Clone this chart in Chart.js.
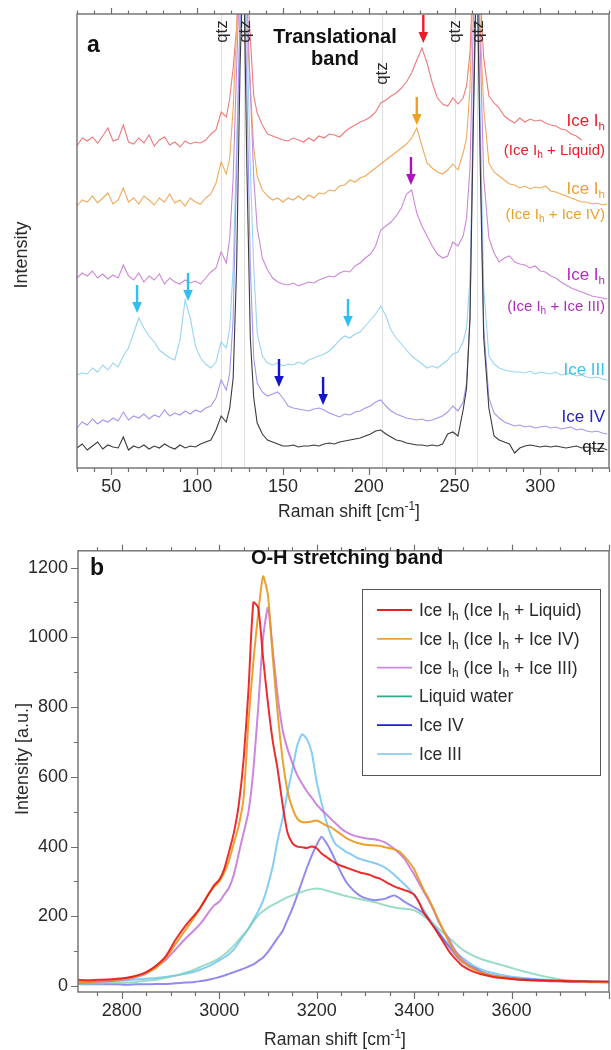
<!DOCTYPE html>
<html>
<head>
<meta charset="utf-8">
<script src="https://cdn.jsdelivr.net/npm/chart.js@4.4.1/dist/chart.umd.min.js"></script>
<style>
  html, body { margin: 0; padding: 0; background: #fff; }
  canvas { display: block; }
</style>
</head>
<body>
<canvas id="chartA" width="611" height="530"></canvas>
<canvas id="chartB" width="611" height="520"></canvas>
<script>
// ---------- panel a: translational band (stacked spectra, arbitrary units) ----------
const shiftA = [30,33,36,39,42,45,48,51,54,57,60,63,66,69,72,75,78,81,84,87,90,93,96,99,102,105,108,111,
  114,117,119,121,123,125,127,129,131,133,135,138,
  141,144,147,150,153,156,159,162,165,168,171,174,177,180,183,186,189,192,195,198,201,204,207,210,213,216,219,222,225,228,231,234,237,240,243,246,
  249,252,255,257,259,261,263,265,267,270,
  273,276,279,282,285,288,291,294,297,300,303,306,309,312,315,318,321,324,327,330,333,336,339];
const shiftTicksA = [50, 100, 150, 200, 250, 300];

const ihLiquidA = [322,330,327,331,325,332,340,327,329,343,326,324,330,325,333,322,328,331,323,326,321,327,324,326,325,328,334,338,
  356,351,370,400,440,500,520,490,430,372,355,343,
  334,332,330,328,327,330,328,326,330,327,332,330,334,333,331,336,340,343,346,348,351,356,365,368,372,375,380,386,395,408,420,405,385,370,364,362,
  370,364,370,382,415,500,520,470,410,372,
  365,360,352,348,345,350,346,349,347,348,345,343,342,339,338,334,332,328,null,null,null,null,null];
const ihIceIVA = [262,268,266,272,265,270,275,264,268,280,266,270,264,272,268,263,270,266,274,265,268,262,270,266,264,270,274,285,
  306,294,310,360,440,520,500,440,380,320,292,278,
  272,268,270,266,270,268,272,268,273,270,275,274,278,277,282,283,288,286,290,292,296,300,304,308,312,316,320,324,330,340,322,305,300,296,294,298,
  304,298,315,330,380,500,520,440,360,305,
  296,292,288,284,283,280,282,279,281,280,282,277,276,274,272,270,268,266,266,264,265,263,264];
const ihIceIIIA = [190,195,192,197,190,194,189,193,190,203,192,188,195,186,192,188,194,184,190,186,184,188,185,187,184,190,196,200,
  216,205,230,290,400,500,520,470,380,290,240,210,
  198,190,186,184,183,185,182,184,186,185,188,190,192,191,195,197,196,202,205,210,214,222,238,242,246,252,260,274,278,255,242,232,222,214,210,212,
  226,222,232,250,300,450,520,420,290,230,
  215,206,210,212,206,204,203,200,202,197,196,192,190,186,183,180,178,176,174,172,171,170,169];
const iceIIIA = [93,95,94,100,96,103,98,105,101,112,120,135,150,140,132,126,118,114,110,108,128,168,150,122,110,104,100,106,
  126,120,140,200,320,450,520,440,300,200,135,112,
  105,103,105,102,104,103,106,104,108,110,112,114,117,122,128,132,130,134,136,142,148,154,162,152,138,130,124,118,112,108,104,100,102,100,104,108,
  114,116,126,140,190,350,520,350,180,112,
  104,100,98,97,96,96,95,97,94,96,95,94,96,93,94,95,92,93,91,90,91,89,88];
const iceIVA = [40,46,43,49,44,48,46,50,47,56,48,52,50,54,49,53,51,58,52,55,53,57,54,58,56,60,62,70,
  88,78,95,150,300,450,520,380,200,110,85,76,
  72,74,76,70,62,60,59,58,57,59,60,58,55,53,51,54,53,56,57,60,62,66,68,62,57,54,52,50,49,48,49,47,48,50,52,56,
  62,57,66,85,150,380,520,320,140,70,
  55,50,46,44,42,43,41,42,40,41,42,40,41,39,40,41,38,39,37,36,37,35,34];
const quartzA = [20,24,18,22,26,19,23,21,20,31,18,22,20,23,19,22,20,24,21,19,23,20,22,21,24,26,28,38,
  52,46,60,90,200,400,520,300,130,70,45,34,
  28,26,24,22,22,23,21,22,22,23,22,24,25,24,26,27,28,29,30,32,34,37,38,34,31,28,27,25,24,23,23,22,23,22,24,34,
  36,32,58,80,150,350,520,300,130,60,
  32,28,26,24,15,20,22,23,22,21,22,21,22,21,20,21,22,20,21,20,19,20,18];

const qtzBandsA = [114, 127.5, 208, 250, 263];
const arrowShiftA = [231.8, 228, 224.6, 65, 94.7, 187.9, 147.7, 173.4];
const arrowTipA = [425, 343, 283, 155, 167, 141, 81, 63];
const traceNamesA = [['Ice I_{h}', '(Ice I_{h} + Liquid)'], ['Ice I_{h}', '(Ice I_{h} + Ice IV)'],
  ['Ice I_{h}', '(Ice I_{h} + Ice III)'], ['Ice III'], ['Ice IV'], ['qtz']];

// ---------- panel b: O-H stretching band ----------
const shiftB = [2710,2730,2750,2770,2790,2810,2830,2850,2870,2890,2910,2930,2950,
  2960,2970,2980,2990,3000,3010,3020,3030,3040,3050,3060,3070,3080,3090,3100,3110,3120,3130,3140,3150,3160,3170,3180,3190,3200,
  3210,3220,3230,3240,3250,3260,3270,3280,3290,3300,3310,3320,3330,3340,3350,3360,3370,3380,3390,3400,3410,3420,3430,3440,3450,
  3460,3470,3480,3490,3500,
  3520,3540,3560,3580,3600,3620,3640,3660,3680,3700,3720,3740,3760,3780,3800];
const shiftTicksB = [2800, 3000, 3200, 3400, 3600];
const intensityTicksB = [0, 200, 400, 600, 800, 1000, 1200];

const ihLiquidB = [18,17,18,19,21,24,30,40,58,85,132,172,205,
  222,245,268,290,305,335,385,440,520,650,850,1100,1085,940,810,700,620,520,440,410,400,398,396,400,395,
  380,370,360,352,345,340,335,330,325,322,318,312,308,300,292,285,280,275,270,262,240,210,190,170,148,
  126,103,85,70,57,
  42,33,27,23,20,18,17,16,15,15,14,14,13,13,13];
const ihIceIVB = [12,12,13,15,18,22,28,38,52,80,120,160,200,
  222,245,268,285,300,325,360,410,460,540,760,930,1070,1175,1120,940,780,650,560,510,480,470,470,472,475,
  468,460,455,445,435,425,418,412,408,405,404,403,402,398,395,392,385,372,355,335,305,275,250,220,190,
  160,130,105,85,70,
  50,38,30,25,22,19,17,15,14,14,13,13,12,12,12];
const ihIceIIIB = [10,10,12,13,16,20,26,36,55,75,105,135,162,
  177,195,215,232,242,262,282,320,380,440,500,620,800,1000,1085,960,830,735,680,640,605,580,558,540,520,
  505,492,478,465,452,442,435,430,427,424,422,420,417,412,403,393,380,365,343,320,295,270,245,218,185,
  160,138,112,90,74,
  52,38,30,25,21,18,16,15,14,13,12,12,11,11,10];
const liquidB = [5,6,7,8,9,10,12,15,18,24,30,38,48,
  54,60,66,72,80,90,102,116,132,148,165,185,203,215,225,233,240,248,255,260,266,270,275,278,280,
  278,274,270,266,262,258,255,252,249,246,243,240,236,232,228,225,223,222,220,217,210,200,190,178,165,
  152,140,128,115,104,
  88,76,68,60,52,44,37,30,24,19,16,14,13,12,12];
const iceIVB = [6,5,5,5,5,4,5,5,6,6,8,10,12,
  14,16,19,22,26,30,35,40,45,50,56,62,72,82,98,118,138,158,190,222,260,300,340,375,405,
  428,410,385,355,325,300,282,268,258,252,248,246,248,250,256,260,252,242,234,226,218,208,192,172,155,
  135,115,98,80,68,
  54,40,31,26,23,20,19,17,16,15,14,14,13,12,12];
const iceIIIB = [12,12,13,14,15,17,19,21,23,26,30,35,42,
  46,52,58,66,74,82,92,105,125,145,165,190,215,245,290,345,420,480,555,620,690,722,708,668,585,
  525,470,430,405,395,385,378,370,364,360,356,352,347,340,330,318,305,292,278,262,240,218,195,175,155,
  135,120,105,92,80,
  60,46,38,32,27,24,21,19,17,16,15,14,13,13,12];
const seriesNamesB = ['Ice I_{h} (Ice I_{h} + Liquid)', 'Ice I_{h} (Ice I_{h} + Ice IV)', 'Ice I_{h} (Ice I_{h} + Ice III)',
  'Liquid water', 'Ice IV', 'Ice III'];

// ---------- styles ----------
const FONT = '"Liberation Sans", Arial, Helvetica, sans-serif';
const AXIS = '#6e6e6e';
const INK = '#2a2a2a';
Chart.defaults.font.family = FONT;

const traceColorA = ['rgb(238,122,122)', 'rgb(238,170,92)', 'rgb(205,135,215)', 'rgb(152,212,242)', 'rgb(162,152,240)', 'rgb(58,58,58)'];
const labelColorA = ['#e8202a', '#eba030', '#b02cc0', '#38c4ec', '#2424c8', '#222'];
const labelYA = [[342, 313], [274, 249], [188, 157], [93], [46], [16]];
const arrowColorA = ['#ee1c24', '#f0a020', '#b010c0', '#30c0f0', '#30c0f0', '#30c0f0', '#1414d0', '#1414d0'];
const traceColorB = ['rgba(232,22,22,0.9)', 'rgba(234,150,22,0.9)', 'rgba(196,112,216,0.85)',
  'rgba(120,208,178,0.75)', 'rgba(72,60,232,0.6)', 'rgba(112,196,245,0.85)'];
const legendColorB = ['#e82020', '#eba335', '#d086e0', '#2aaa90', '#2020d0', '#98d4f2'];

// ---------- helpers ----------
function richParts(str) {
  const out = []; const re = /([_^])\{([^}]*)\}/g; let last = 0, m;
  while ((m = re.exec(str))) {
    if (m.index > last) out.push({ t: str.slice(last, m.index), k: '' });
    out.push({ t: m[2], k: m[1] });
    last = re.lastIndex;
  }
  if (last < str.length) out.push({ t: str.slice(last), k: '' });
  return out;
}
function drawRich(ctx, str, x, y, size, color, align, weight) {
  const parts = richParts(str);
  const fontOf = k => (weight || 'normal') + ' ' + (k ? size * 0.68 : size) + 'px ' + FONT;
  let w = 0;
  parts.forEach(p => { ctx.font = fontOf(p.k); p.w = ctx.measureText(p.t).width; w += p.w; });
  let cx = align === 'right' ? x - w : align === 'center' ? x - w / 2 : x;
  ctx.fillStyle = color; ctx.textAlign = 'left'; ctx.textBaseline = 'alphabetic';
  parts.forEach(p => {
    ctx.font = fontOf(p.k);
    const dy = p.k === '_' ? size * 0.22 : p.k === '^' ? -size * 0.42 : 0;
    ctx.fillText(p.t, cx, y + dy);
    cx += p.w;
  });
}
function drawRotated(ctx, str, x, y, size, color) {
  ctx.save(); ctx.translate(x, y); ctx.rotate(-Math.PI / 2);
  drawRich(ctx, str, 0, size * 0.36, size, color, 'center');
  ctx.restore();
}
function plainName(s) { return s.replace(/[_^]\{([^}]*)\}/g, '$1'); }

// frame + minor/major tick marks
const framePlugin = {
  id: 'frame',
  afterDatasetsDraw(chart, args, o) {
    const { ctx, chartArea: a } = chart;
    const sx = chart.scales.x, sy = chart.scales.y;
    ctx.save();
    ctx.strokeStyle = AXIS; ctx.lineWidth = 1.4;
    ctx.strokeRect(a.left, a.top, a.right - a.left, a.bottom - a.top);
    ctx.lineWidth = 1.2;
    ctx.beginPath();
    for (let v = Math.ceil(sx.min / o.xMinor) * o.xMinor; v <= sx.max; v += o.xMinor) {
      const p = Math.round(sx.getPixelForValue(v)) + 0.5;
      const major = v % o.xMajor === 0;
      ctx.moveTo(p, a.bottom); ctx.lineTo(p, a.bottom + (major ? 7 : 4));
      ctx.moveTo(p, a.top); ctx.lineTo(p, a.top - (major ? 6 : 3.5));
    }
    if (o.yMinor) {
      for (let v = Math.ceil(sy.min / o.yMinor) * o.yMinor; v <= sy.max; v += o.yMinor) {
        const p = Math.round(sy.getPixelForValue(v)) + 0.5;
        const major = v % o.yMajor === 0;
        ctx.moveTo(a.left, p); ctx.lineTo(a.left - (major ? 7 : 4), p);
      }
    }
    ctx.stroke();
    ctx.restore();
  }
};

const notesA = {
  id: 'notesA',
  beforeDatasetsDraw(chart) {
    const { ctx, chartArea: a } = chart; const sx = chart.scales.x;
    ctx.save(); ctx.strokeStyle = 'rgba(0,0,0,0.13)'; ctx.lineWidth = 1;
    qtzBandsA.forEach(v => {
      const p = Math.round(sx.getPixelForValue(v)) + 0.5;
      ctx.beginPath(); ctx.moveTo(p, a.top); ctx.lineTo(p, a.bottom); ctx.stroke();
    });
    ctx.restore();
  },
  afterDraw(chart) {
    const { ctx, chartArea: a } = chart; const sx = chart.scales.x, sy = chart.scales.y;
    ctx.save();
    // peak arrows
    arrowShiftA.forEach((v, i) => {
      const x = sx.getPixelForValue(v), tip = sy.getPixelForValue(arrowTipA[i]);
      ctx.strokeStyle = arrowColorA[i]; ctx.fillStyle = arrowColorA[i]; ctx.lineWidth = 2.4;
      ctx.beginPath(); ctx.moveTo(x, tip - 28); ctx.lineTo(x, tip - 9); ctx.stroke();
      ctx.beginPath(); ctx.moveTo(x - 4.8, tip - 11); ctx.lineTo(x + 4.8, tip - 11); ctx.lineTo(x, tip); ctx.closePath(); ctx.fill();
    });
    // qtz band labels
    qtzBandsA.forEach((v, i) => {
      const x = sx.getPixelForValue(v) + (i === 2 ? 0 : 1);
      const yc = i === 2 ? 73.5 : 31.5;
      ctx.save(); ctx.translate(x, yc); ctx.rotate(-Math.PI / 2);
      ctx.font = '17px ' + FONT; ctx.fillStyle = INK; ctx.textAlign = 'center'; ctx.textBaseline = 'middle';
      ctx.fillText('qtz', 0, 0); ctx.restore();
    });
    // trace labels
    traceNamesA.forEach((lines, i) => {
      lines.forEach((s, j) => {
        drawRich(ctx, s, a.right - 4, sy.getPixelForValue(labelYA[i][j]), j === 0 ? 17 : 15, labelColorA[i], 'right');
      });
    });
    // titles
    drawRich(ctx, 'a', 87, 52, 23, '#111', 'left', 'bold');
    drawRich(ctx, 'Translational', 335, 43, 20, '#111', 'center', 'bold');
    drawRich(ctx, 'band', 335, 65, 20, '#111', 'center', 'bold');
    drawRich(ctx, 'Raman shift [cm^{-1}]', 349, 517, 17.5, INK, 'center');
    drawRotated(ctx, 'Intensity', 21, 255, 18, INK);
    ctx.restore();
  }
};

const notesB = {
  id: 'notesB',
  afterDraw(chart) {
    const { ctx } = chart;
    ctx.save();
    drawRich(ctx, 'b', 90, 45, 23, '#111', 'left', 'bold');
    drawRich(ctx, 'O-H stretching band', 347, 34, 20, '#111', 'center', 'bold');
    // legend
    const L = { x: 362.5, y: 59.5, w: 238, h: 186, row0: 80, step: 28.8, l0: 377, l1: 412, tx: 419 };
    ctx.fillStyle = '#fff'; ctx.fillRect(L.x, L.y, L.w, L.h);
    ctx.strokeStyle = '#555'; ctx.lineWidth = 1; ctx.strokeRect(L.x, L.y, L.w, L.h);
    seriesNamesB.forEach((n, i) => {
      const cy = L.row0 + i * L.step;
      ctx.strokeStyle = legendColorB[i]; ctx.lineWidth = 1.8;
      ctx.beginPath(); ctx.moveTo(L.l0, cy); ctx.lineTo(L.l1, cy); ctx.stroke();
      drawRich(ctx, n, L.tx, cy + 6, 17.5, INK, 'left');
    });
    drawRich(ctx, 'Raman shift [cm^{-1}]', 335, 515, 17.5, INK, 'center');
    drawRotated(ctx, 'Intensity [a.u.]', 22, 229, 18, INK);
    ctx.restore();
  }
};

const tickFont = { family: FONT, size: 18 };
const plainTick = v => String(v);

// ---------- panel a chart ----------
const tracesA = [quartzA, iceIVA, iceIIIA, ihIceIIIA, ihIceIVA, ihLiquidA];
const colorIdxA = [5, 4, 3, 2, 1, 0];
new Chart(document.getElementById('chartA'), {
  type: 'line',
  data: {
    datasets: tracesA.map((t, k) => ({
      label: plainName(traceNamesA[colorIdxA[k]].join(' ')),
      data: shiftA.map((x, i) => ({ x: x, y: t[i] })),
      borderColor: traceColorA[colorIdxA[k]],
      borderWidth: 1.1,
      pointRadius: 0,
      tension: 0,
      spanGaps: false
    }))
  },
  options: {
    responsive: false,
    animation: false,
    layout: { padding: { left: 77, right: 2, top: 14, bottom: 0 } },
    plugins: {
      legend: { display: false },
      tooltip: { enabled: false },
      frame: { xMinor: 10, xMajor: 50 }
    },
    scales: {
      x: {
        type: 'linear', min: 30, max: 340,
        grid: { display: false, drawTicks: false },
        border: { display: false },
        afterBuildTicks: s => { s.ticks = shiftTicksA.map(v => ({ value: v })); },
        afterFit: s => { s.height = 62; },
        ticks: { font: tickFont, color: INK, padding: 8, maxRotation: 0, autoSkip: false, callback: plainTick }
      },
      y: { type: 'linear', display: false, min: 0, max: 454 }
    }
  },
  plugins: [framePlugin, notesA]
});

// ---------- panel b chart ----------
const tracesB = [ihLiquidB, ihIceIVB, ihIceIIIB, liquidB, iceIVB, iceIIIB];
new Chart(document.getElementById('chartB'), {
  type: 'line',
  data: {
    datasets: tracesB.map((t, k) => ({
      label: plainName(seriesNamesB[k]),
      data: shiftB.map((x, i) => ({ x: x, y: t[i] })),
      borderColor: traceColorB[k],
      borderWidth: 2,
      pointRadius: 0,
      tension: 0.2
    }))
  },
  options: {
    responsive: false,
    animation: false,
    layout: { padding: { left: 0, right: 2, top: 12, bottom: 0 } },
    plugins: {
      legend: { display: false },
      tooltip: { enabled: false },
      frame: { xMinor: 50, xMajor: 200, yMinor: 100, yMajor: 200 }
    },
    scales: {
      x: {
        type: 'linear', min: 2710, max: 3800,
        grid: { display: false, drawTicks: false },
        border: { display: false },
        afterBuildTicks: s => { s.ticks = shiftTicksB.map(v => ({ value: v })); },
        afterFit: s => { s.height = 58; },
        ticks: { font: tickFont, color: INK, padding: 8, maxRotation: 0, autoSkip: false, callback: plainTick }
      },
      y: {
        type: 'linear', min: -17, max: 1248,
        grid: { display: false, drawTicks: false },
        border: { display: false },
        afterBuildTicks: s => { s.ticks = intensityTicksB.map(v => ({ value: v })); },
        afterFit: s => { s.width = 78; },
        ticks: { font: tickFont, color: INK, padding: 10, callback: plainTick }
      }
    }
  },
  plugins: [framePlugin, notesB]
});
</script>
</body>
</html>
